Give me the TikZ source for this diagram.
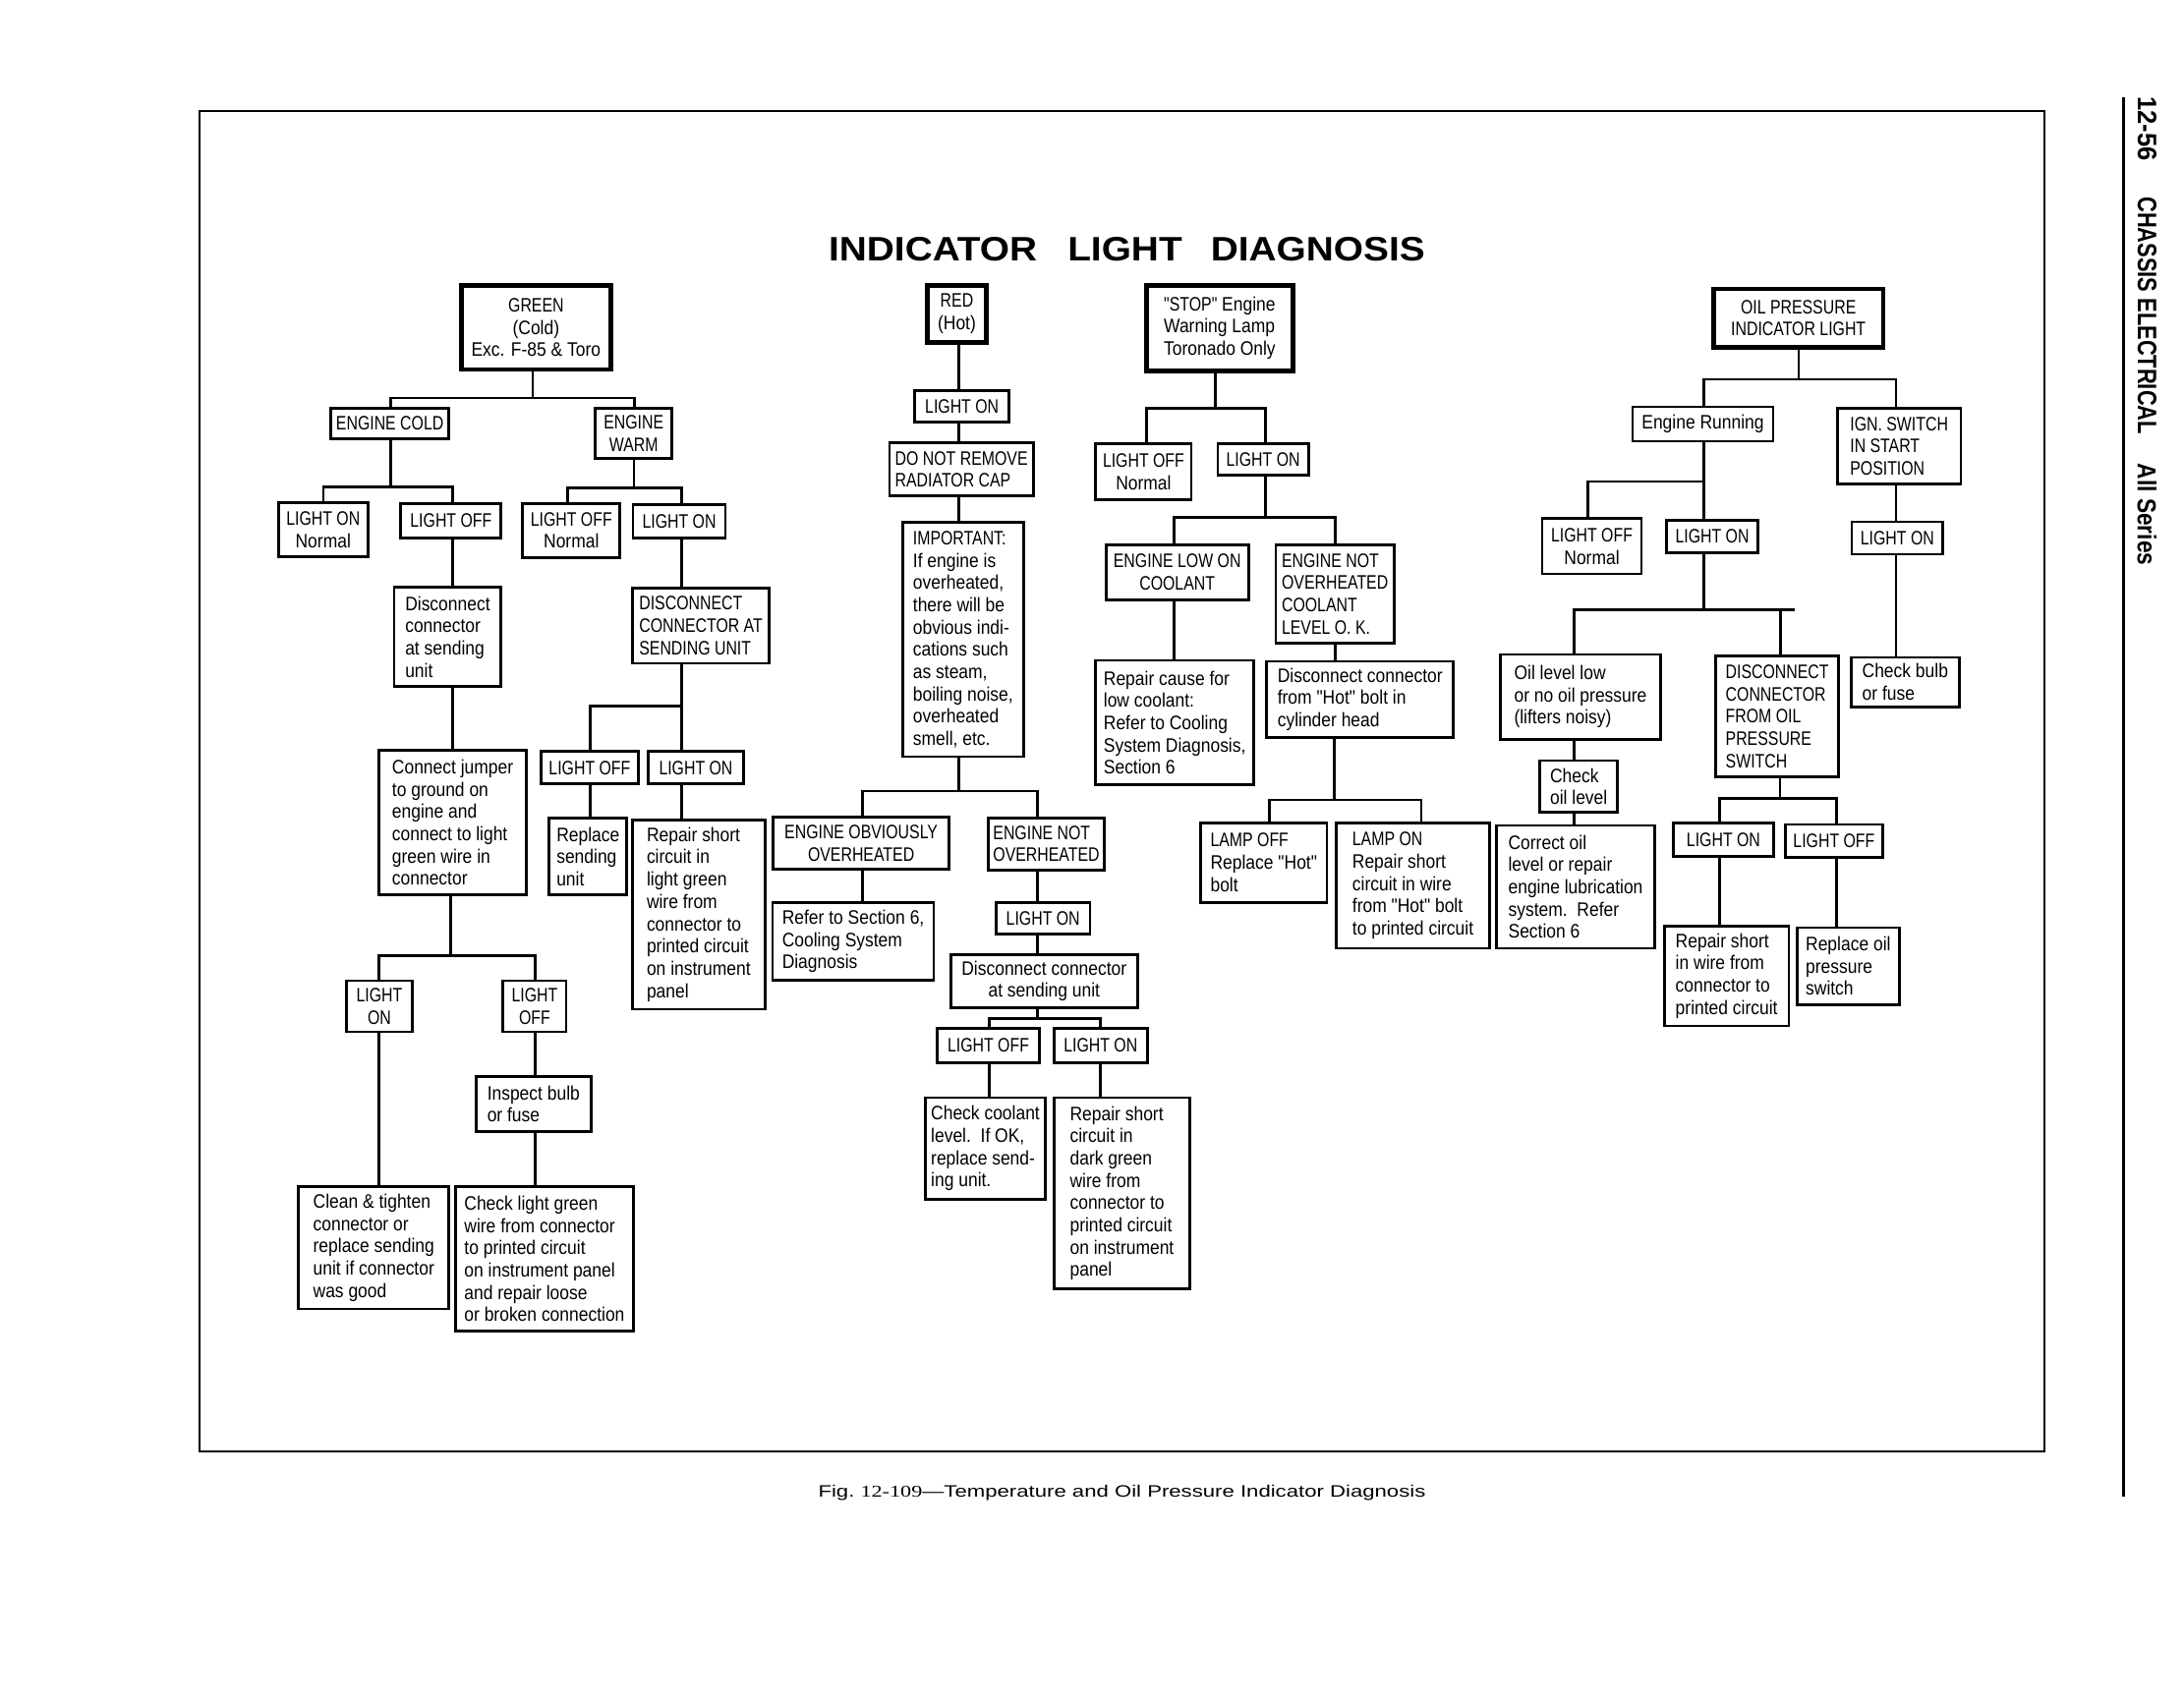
\documentclass[tikz,border=0pt]{standalone}
\usepackage{fontspec}
\usepackage{graphicx}
\setmainfont{Liberation Sans}
\newfontfamily\lcf{Liberation Sans}[FakeStretch=0.88]
\newfontfamily\capf{Liberation Sans}[FakeStretch=0.80]
\newfontfamily\serifnum{Liberation Serif}
\newcommand\UC[1]{{\capf #1}}
\tikzset{
  bx/.code n args={4}{%
    \pgfmathsetmacro\bxw{#3-#1}%
    \pgfmathsetmacro\bxh{#4-#2}%
    \pgfmathsetmacro\bxx{(#1+#3)/2}%
    \pgfmathsetmacro\bxy{(#2+#4)/2}%
    \edef\bxtmp{\noexpand\pgfkeysalso{minimum width=\bxw pt,minimum height=\bxh pt,at={(\bxx,\bxy)}}}%
    \bxtmp},
  box/.style={draw, line width=2pt, inner sep=2pt, align=left,
    font=\lcf\fontsize{14}{16}\selectfont},
  cbox/.style={box, font=\capf\fontsize{14}{16}\selectfont},
  ctr/.style={align=center},
  heavy/.style={line width=3.4pt},
  conn/.style={line width=2pt, line cap=rect},
  frameline/.style={line width=1.3pt},
  pageline/.style={line width=1.7pt},
}
\begin{document}
\begin{tikzpicture}[x=1pt,y=-1pt]
\fill[white] (0,0) rectangle (1568,1222);
\useasboundingbox (0,0) rectangle (1568,1222);

% frame and page
\draw[frameline] (143,80) rectangle (1468,1042);
\draw[pageline] (1524.7,70) -- (1524.7,1075);
\node[rotate=-90, anchor=west, inner sep=0] (side1) at (1541.5,69.4)
  {\resizebox{46pt}{13.4pt}{\bfseries 12-56}};
\node[rotate=-90, anchor=west, inner sep=0] (side2) at (1541.5,141.1)
  {\resizebox{170.6pt}{13.4pt}{\bfseries CHASSIS ELECTRICAL}};
\node[rotate=-90, anchor=west, inner sep=0] (side3) at (1541.5,332.8)
  {\resizebox{73pt}{13.6pt}{\bfseries All Series}};

\node[inner sep=0] (title) at (809,179)
  {\resizebox{428pt}{17pt}{\bfseries INDICATOR\hspace{0.8em}LIGHT\hspace{0.75em}DIAGNOSIS}};
\node[inner sep=0, anchor=base] (caption) at (805.5,1075)
  {\resizebox{436pt}{8.6pt}{Fig.\ {\serifnum 12-109}—Temperature and Oil Pressure Indicator Diagnosis}};

% ================= left tree (GREEN)
\node[box, heavy, ctr, bx={331.2}{205.1}{438.5}{265.3}] (green) {\UC{GREEN}\\(Cold)\\Exc. F-85 \& Toro};
\node[cbox, ctr, bx={237.5}{293.3}{322.3}{315.2}] (ecold) {ENGINE COLD};
\node[cbox, ctr, bx={427.3}{293.3}{482.6}{329.3}] (ewarm) {ENGINE\\WARM};
\node[box, ctr, bx={200}{361}{264}{400}] (lonN) {\UC{LIGHT ON}\\Normal};
\node[cbox, ctr, bx={287.8}{361.8}{359.8}{386.2}] (loff1) {LIGHT OFF};
\node[box, ctr, bx={375.3}{361.5}{445.1}{400.3}] (loffN) {\UC{LIGHT OFF}\\Normal};
\node[cbox, ctr, bx={454.5}{362.2}{520.8}{386.2}] (lon1) {LIGHT ON};
\node[box, bx={283}{421.7}{359.8}{492.8}] (disc1) {Disconnect\\connector\\at sending\\unit};
\node[cbox, bx={454}{422.2}{552.4}{476.3}] (disc2) {DISCONNECT\\CONNECTOR AT\\SENDING UNIT};
\node[box, bx={272.3}{538.8}{377.7}{642.8}] (jumper) {Connect jumper\\to ground on\\engine and\\connect to light\\green wire in\\connector};
\node[cbox, ctr, bx={388.4}{539.7}{458.3}{562.8}] (loff2) {LIGHT OFF};
\node[cbox, ctr, bx={465.4}{539.7}{533.8}{562.8}] (lon2) {LIGHT ON};
\node[box, bx={394.4}{587.7}{450}{642.8}] (replace1) {Replace\\sending\\unit};
\node[box, bx={454}{588.6}{549.3}{724.7}] (repair1) {Repair short\\circuit in\\light green\\wire from\\connector to\\printed circuit\\on instrument\\panel};
\node[cbox, ctr, bx={248.5}{704.3}{296.2}{740.9}] (lon3) {LIGHT\\ON};
\node[cbox, ctr, bx={361.2}{704.3}{406.5}{740.9}] (loff3) {LIGHT\\OFF};
\node[box, bx={341.9}{773.1}{424.2}{812.6}] (inspect) {Inspect bulb\\or fuse};
\node[box, bx={214.4}{852.1}{322.3}{939.9}] (clean) {Clean \& tighten\\connector or\\replace sending\\unit if connector\\was good};
\node[box, bx={327.1}{852.1}{454.7}{956.1}] (checkgreen) {Check light green\\wire from connector\\to printed circuit\\on instrument panel\\and repair loose\\or broken connection};

% ================= RED tree
\node[box, heavy, ctr, bx={666}{204.9}{707.9}{245.9}] (red) {\UC{RED}\\(Hot)};
\node[cbox, ctr, bx={656.6}{280.6}{724.6}{303.1}] (lonR1) {LIGHT ON};
\node[cbox, bx={638.6}{318.1}{741.9}{356.2}] (dnr) {DO NOT REMOVE\\RADIATOR CAP};
\node[box, bx={648.1}{375.3}{734.8}{543.4}] (important) {\UC{IMPORTANT:}\\If engine is\\overheated,\\there will be\\obvious indi-\\cations such\\as steam,\\boiling noise,\\overheated\\smell, etc.};
\node[cbox, ctr, bx={555.1}{586.5}{681.4}{624.2}] (eobv) {ENGINE OBVIOUSLY\\OVERHEATED};
\node[cbox, bx={709.7}{587.2}{792.7}{624.9}] (enot) {ENGINE NOT\\OVERHEATED};
\node[box, bx={554.7}{647.9}{670.4}{704}] (refer6) {Refer to Section 6,\\Cooling System\\Diagnosis};
\node[cbox, ctr, bx={715.1}{647.9}{782.6}{670.6}] (lonR2) {LIGHT ON};
\node[box, ctr, bx={682.6}{685.6}{816.7}{723.5}] (discR) {Disconnect connector\\at sending unit};
\node[cbox, ctr, bx={672.7}{738.6}{746.4}{763.1}] (loffR) {LIGHT OFF};
\node[cbox, ctr, bx={756.7}{738.6}{823.7}{763.1}] (lonR3) {LIGHT ON};
\node[box, bx={664.5}{788.2}{750.4}{861.3}] (checkcool) {Check coolant\\level.\ \ If OK,\\replace send-\\ing unit.};
\node[box, bx={756.7}{788.2}{854.3}{925.7}] (repairdg) {Repair short\\circuit in\\dark green\\wire from\\connector to\\printed circuit\\on instrument\\panel};

% ================= STOP tree
\node[box, heavy, bx={822.9}{204.9}{928.5}{266.3}] (stop) {\UC{"STOP"} Engine\\Warning Lamp\\Toronado Only};
\node[box, ctr, bx={786.7}{318.5}{855.3}{359.1}] (loffS) {\UC{LIGHT OFF}\\Normal};
\node[cbox, ctr, bx={874.3}{318.5}{939.4}{341.2}] (lonS) {LIGHT ON};
\node[cbox, ctr, bx={794}{391.3}{896.3}{430.8}] (elow) {ENGINE LOW ON\\COOLANT};
\node[cbox, bx={915.9}{391.5}{1000.9}{461.6}] (enotc) {ENGINE NOT\\OVERHEATED\\COOLANT\\LEVEL O. K.};
\node[box, bx={786.7}{474.2}{900.1}{563.6}] (repcause) {Repair cause for\\low coolant:\\Refer to Cooling\\System Diagnosis,\\Section 6};
\node[box, bx={909.5}{474.9}{1043.4}{529.5}] (discHot) {Disconnect connector\\from "Hot" bolt in\\cylinder head};
\node[box, bx={862.1}{590.9}{952.6}{648}] (lampoff) {\UC{LAMP OFF}\\Replace "Hot"\\bolt};
\node[box, bx={959.2}{590.9}{1069.6}{681}] (lampon) {\UC{LAMP ON}\\Repair short\\circuit in wire\\from "Hot" bolt\\to printed circuit};

% ================= OIL tree
\node[cbox, heavy, ctr, bx={1230.2}{207.5}{1352.1}{249.3}] (oilp) {OIL PRESSURE\\INDICATOR LIGHT};
\node[box, ctr, bx={1172.1}{292.2}{1273}{316.8}] (erun) {Engine Running};
\node[cbox, bx={1319.1}{293.3}{1407.8}{347.4}] (ign) {IGN.\ SWITCH\\IN START\\POSITION};
\node[box, ctr, bx={1107.2}{372.4}{1178.5}{412.1}] (loffO) {\UC{LIGHT OFF}\\Normal};
\node[cbox, ctr, bx={1196.6}{373.5}{1262}{397.1}] (lonO) {LIGHT ON};
\node[cbox, ctr, bx={1329.5}{374.7}{1394.9}{398}] (lonI) {LIGHT ON};
\node[box, bx={1077.3}{470}{1192.1}{530.9}] (oillow) {Oil level low\\or no oil pressure\\(lifters noisy)};
\node[box, bx={1105.6}{546.2}{1161.3}{583.4}] (checkoil) {Check\\oil level};
\node[box, bx={1074.5}{592.8}{1187.9}{681}] (correct) {Correct oil\\level or repair\\engine lubrication\\system.\ \ Refer\\Section 6};
\node[cbox, bx={1231.9}{470.9}{1320}{558}] (discoil) {DISCONNECT\\CONNECTOR\\FROM OIL\\PRESSURE\\SWITCH};
\node[cbox, ctr, bx={1201.5}{591.1}{1273.2}{614.7}] (lonO2) {LIGHT ON};
\node[cbox, ctr, bx={1282}{592}{1351.4}{615.8}] (loffO2) {LIGHT OFF};
\node[box, bx={1194.9}{665}{1284.3}{736.7}] (repairwire) {Repair short\\in wire from\\connector to\\printed circuit};
\node[box, bx={1290.2}{666.2}{1363.6}{721.4}] (replaceoil) {Replace oil\\pressure\\switch};
\node[box, bx={1329}{472.1}{1406.6}{507.6}] (checkbulb) {Check bulb\\or fuse};

% ================= connectors: left tree
\coordinate (aP) at (382.5,285.8); \coordinate (aL) at (280.6,285.8); \coordinate (aR) at (455.7,285.8);
\draw[conn] (aP |- green.south) -- (aP);
\draw[conn] (aL |- ecold.north) -- (aL) -- (aR) -- (aR |- ewarm.north);
\coordinate (bP) at (280.6,349.8); \coordinate (bL) at (232.2,349.8); \coordinate (bR) at (325,349.8);
\draw[conn] (bP |- ecold.south) -- (bP);
\draw[conn] (bL |- lonN.north) -- (bL) -- (bR) -- (bR |- loff1.north);
\coordinate (cP) at (455.2,350.5); \coordinate (cL) at (407.5,350.5); \coordinate (cR) at (489.2,350.5);
\draw[conn] (cP |- ewarm.south) -- (cP);
\draw[conn] (cL |- loffN.north) -- (cL) -- (cR) -- (cR |- lon1.north);
\draw[conn] (bR |- loff1.south) -- (bR |- disc1.north);
\draw[conn] (bR |- disc1.south) -- (bR |- jumper.north);
\draw[conn] (cR |- lon1.south) -- (cR |- disc2.north);
\coordinate (dL) at (423.7,507); \coordinate (dR) at (489.2,507);
\draw[conn] (dR |- disc2.south) -- (dR);
\draw[conn] (dL |- loff2.north) -- (dL) -- (dR) -- (dR |- lon2.north);
\draw[conn] (dL |- loff2.south) -- (dL |- replace1.north);
\draw[conn] (dR |- lon2.south) -- (dR |- repair1.north);
\coordinate (eP) at (323.5,686.1); \coordinate (eL) at (272.3,686.1); \coordinate (eR) at (384.1,686.1);
\draw[conn] (eP |- jumper.south) -- (eP);
\draw[conn] (eL |- lon3.north) -- (eL) -- (eR) -- (eR |- loff3.north);
\draw[conn] (eL |- lon3.south) -- (eL |- clean.north);
\draw[conn] (eR |- loff3.south) -- (eR |- inspect.north);
\draw[conn] (eR |- inspect.south) -- (eR |- checkgreen.north);

% ================= connectors: red tree
\coordinate (rP) at (688.1,568.1); \coordinate (rL) at (619.1,568.1); \coordinate (rR) at (744.8,568.1);
\draw[conn] (rP |- red.south) -- (rP |- lonR1.north);
\draw[conn] (rP |- lonR1.south) -- (rP |- dnr.north);
\draw[conn] (rP |- dnr.south) -- (rP |- important.north);
\draw[conn] (rP |- important.south) -- (rP);
\draw[conn] (rL |- eobv.north) -- (rL) -- (rR) -- (rR |- enot.north);
\draw[conn] (rL |- eobv.south) -- (rL |- refer6.north);
\draw[conn] (rR |- enot.south) -- (rR |- lonR2.north);
\draw[conn] (rR |- lonR2.south) -- (rR |- discR.north);
\coordinate (sP) at (744.8,731.4); \coordinate (sL) at (710.4,731.4); \coordinate (sR) at (789.9,731.4);
\draw[conn] (sP |- discR.south) -- (sP);
\draw[conn] (sL |- loffR.north) -- (sL) -- (sR) -- (sR |- lonR3.north);
\draw[conn] (sL |- loffR.south) -- (sL |- checkcool.north);
\draw[conn] (sR |- lonR3.south) -- (sR |- repairdg.north);

% ================= connectors: STOP tree
\coordinate (tP) at (872.4,293.1); \coordinate (tL) at (822.9,293.1); \coordinate (tR) at (908.6,293.1);
\draw[conn] (tP |- stop.south) -- (tP);
\draw[conn] (tL |- loffS.north) -- (tL) -- (tR) -- (tR |- lonS.north);
\coordinate (uP) at (908.6,371.7); \coordinate (uL) at (842.8,371.7); \coordinate (uR) at (958.4,371.7);
\draw[conn] (uP |- lonS.south) -- (uP);
\draw[conn] (uL |- elow.north) -- (uL) -- (uR) -- (uR |- enotc.north);
\draw[conn] (uL |- elow.south) -- (uL |- repcause.north);
\draw[conn] (uR |- enotc.south) -- (uR |- discHot.north);
\coordinate (vP) at (958.1,574.4); \coordinate (vL) at (911.5,574.4); \coordinate (vR) at (1020.4,574.4);
\draw[conn] (vP |- discHot.south) -- (vP);
\draw[conn] (vL |- lampoff.north) -- (vL) -- (vR) -- (vR |- lampon.north);

% ================= connectors: OIL tree
\coordinate (wP) at (1291.4,272.4); \coordinate (wL) at (1223.1,272.4); \coordinate (wR) at (1361.2,272.4);
\draw[conn] (wP |- oilp.south) -- (wP);
\draw[conn] (wL |- erun.north) -- (wL) -- (wR) -- (wR |- ign.north);
\coordinate (xP) at (1223.3,345.8); \coordinate (xL) at (1140.1,345.8);
\draw[conn] (xP |- erun.south) -- (xP |- lonO.north);
\draw[conn] (xL |- loffO.north) -- (xL) -- (xP);
\draw[conn] (wR |- ign.south) -- (wR |- lonI.north);
\draw[conn] (wR |- lonI.south) -- (wR |- checkbulb.north);
\coordinate (yP) at (1223.3,438); \coordinate (yL) at (1130.3,438); \coordinate (yR) at (1278.4,438); \coordinate (yE) at (1287.8,438);
\draw[conn] (yP |- lonO.south) -- (yP);
\draw[conn] (yL |- oillow.north) -- (yL) -- (yE);
\draw[conn] (yR) -- (yR |- discoil.north);
\draw[conn] (yL |- oillow.south) -- (yL |- checkoil.north);
\draw[conn] (yL |- checkoil.south) -- (yL |- correct.north);
\coordinate (zP) at (1278,573.2); \coordinate (zL) at (1234.6,573.2); \coordinate (zR) at (1318.8,573.2);
\draw[conn] (zP |- discoil.south) -- (zP);
\draw[conn] (zL |- lonO2.north) -- (zL) -- (zR) -- (zR |- loffO2.north);
\draw[conn] (zL |- lonO2.south) -- (zL |- repairwire.north);
\draw[conn] (zR |- loffO2.south) -- (zR |- replaceoil.north);
\end{tikzpicture}
\end{document}
